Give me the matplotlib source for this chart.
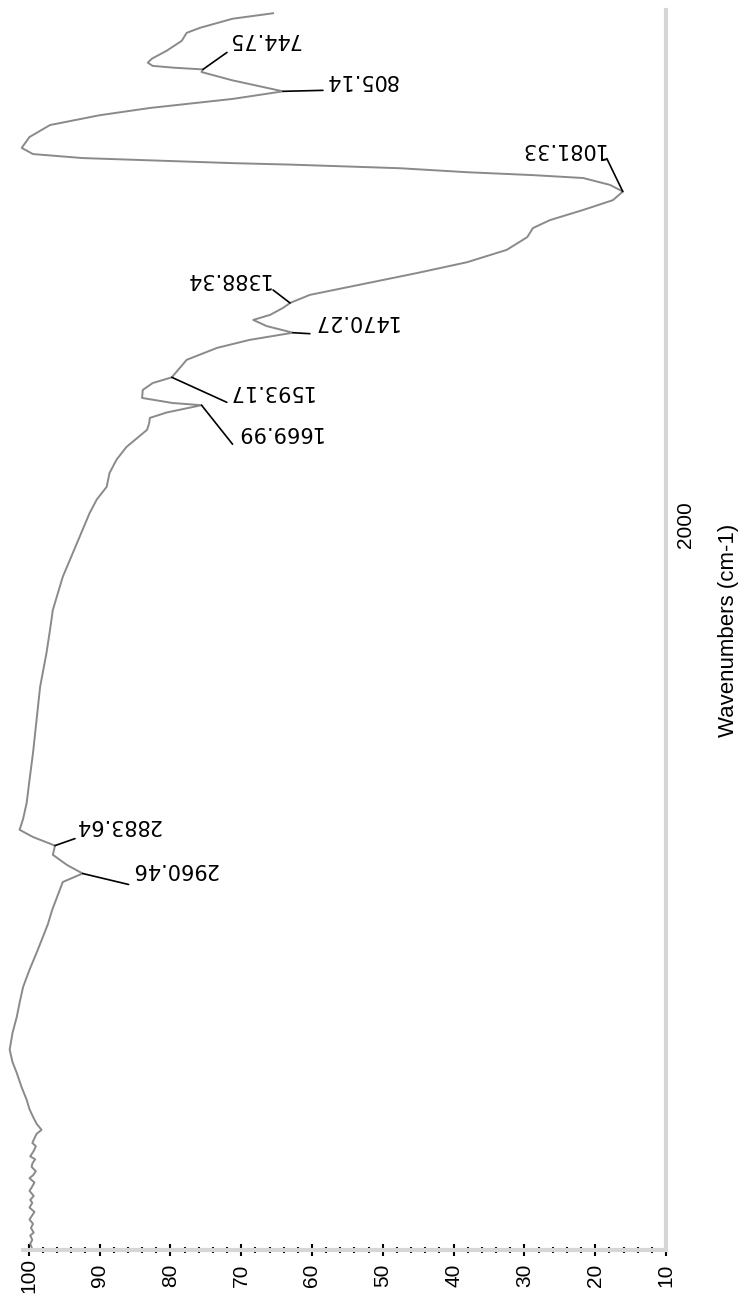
import numpy as np
import matplotlib.pyplot as plt

wavenumber = [590, 605, 630, 644, 666, 693, 715, 726, 735, 740, 744.75, 752, 775, 805.14,
              826, 851, 871, 898, 931, 961, 978, 989, 997, 1003, 1007, 1011, 1017, 1028,
              1036, 1044, 1063, 1081.33, 1105, 1132, 1160, 1182, 1207, 1242, 1276, 1306,
              1339, 1366, 1388.34, 1402, 1421, 1435, 1452, 1470.27, 1490, 1512, 1545,
              1593.17, 1609, 1628, 1650, 1664, 1669.99, 1690, 1705, 1720, 1738, 1785, 1820,
              1857, 1895, 1930, 1967, 2050, 2143, 2234, 2289, 2353, 2446, 2537, 2628, 2703,
              2766, 2810, 2840, 2860, 2883.64, 2909, 2937, 2960.46, 2984, 3025, 3061, 3100,
              3135, 3179, 3226, 3273, 3317, 3356, 3400, 3446, 3480, 3510, 3550, 3584, 3610,
              3631, 3650, 3667, 3678, 3690, 3703, 3712, 3725, 3740, 3748, 3760, 3769, 3781,
              3792, 3800, 3812, 3826, 3835, 3849, 3860, 3868, 3881, 3893, 3905, 3914, 3926,
              3937, 3950, 3958, 3970, 3981, 3990]
transmittance = [65.5, 71.2, 75.8, 77.7, 78.4, 80.5, 82.6, 83.2, 82.5, 79.5, 75.4, 75.6, 71.2, 64.1,
                 71.2, 82.9, 90.0, 97.0, 99.9, 101.0, 99.4, 92.4, 80.5, 71.2, 63.1, 57.0, 47.6, 38.1,
                 28.8, 21.7, 17.9, 16.1, 17.5, 21.7, 26.4, 28.8, 29.6, 32.5, 38.1, 45.2,
                 53.5, 60.3, 63.1, 64.1, 65.9, 68.3, 66.4, 62.7, 68.8, 73.4, 77.7,
                 79.8, 82.5, 83.9, 84.0, 79.7, 75.6, 80.5, 82.9, 83.0, 83.3, 86.2, 87.6,
                 88.6, 89.0, 90.4, 91.4, 93.2, 95.2, 96.6, 97.0, 97.5, 98.4, 98.9, 99.4, 99.9,
                 100.3, 100.8, 101.3, 99.4, 96.3, 96.6, 94.6, 92.4, 95.2, 96.0, 96.7, 97.3,
                 98.0, 98.9, 99.9, 100.8, 101.3, 101.7, 102.3, 102.7, 102.3, 101.7, 101.0, 100.3, 99.9,
                 99.4, 98.9, 98.2, 98.9, 99.2, 99.5, 99.0, 99.3, 99.8, 99.1, 99.5, 99.6, 99.0,
                 99.4, 99.9, 99.2, 99.6, 99.9, 99.3, 99.8, 99.5, 99.9, 99.2, 99.6, 99.9, 99.4,
                 99.7, 99.3, 99.8, 99.5, 99.8, 99.6]

peak_wn = [744.75, 805.14, 1081.33, 1388.34, 1470.27, 1593.17, 1669.99, 2883.64, 2960.46]
peak_t = [75.4, 64.1, 16.1, 63.1, 62.7, 79.8, 75.6, 96.3, 92.4]
peak_labels = ['744.75', '805.14', '1081.33', '1388.34', '1470.27', '1593.17', '1669.99',
               '2883.64', '2960.46']

t_major = [100, 90, 80, 70, 60, 50, 40, 30, 20, 10]
t_minor = [t for t in range(12, 100, 2) if t % 10]
wn_ticks = [1000, 1500, 2000, 2500, 3000, 3500]
wn_ticklabels = ['', '', '2000', '', '', '']

# leader line end / text anchor offsets in pixels (x right, y up)
offsets = [((24, 17), (24, 30), 'left'),
           ((40, 1), (42, 11), 'left'),
           ((-16, 33), (-18, 43), 'right'),
           ((-17, 13), (-20, 24), 'right'),
           ((17, -1), (19, 12), 'left'),
           ((55, -25), (55, -14), 'left'),
           ((31, -39), (33, -27), 'left'),
           ((20, 7), (20, 21), 'left'),
           ((46, -11), (48, 4), 'left')]

fig = plt.figure(figsize=(7.4, 12.99), dpi=100)
ax = fig.add_axes([4 / 740, 49 / 1299, 662 / 740, 1240 / 1299])

ax.plot(transmittance, wavenumber, color='#8a8a8a', lw=1.4)
ax.set_xlim(103.5, 10)
ax.set_ylim(3998, 581)

for w, t, lab, (line_end, text_pos, ha) in zip(peak_wn, peak_t, peak_labels, offsets):
    ax.annotate('', xy=(t, w), xytext=line_end, textcoords='offset pixels',
                arrowprops=dict(arrowstyle='-', color='black', lw=1.2,
                                shrinkA=0, shrinkB=0))
    ax.annotate(lab, xy=(t, w), xytext=text_pos, textcoords='offset pixels',
                rotation=180, ha=ha, va='center', fontsize=15, family='DejaVu Sans')

# spines
for s in ['top', 'left']:
    ax.spines[s].set_visible(False)
for s in ['bottom', 'right']:
    ax.spines[s].set_color('#d6d6d6')
    ax.spines[s].set_linewidth(3)
ax.spines['bottom'].set_bounds(100.8, 10)

ax.set_xticks(t_major)
ax.set_xticks(t_minor, minor=True)
ax.tick_params(axis='x', which='major', direction='inout', length=8, width=1.5,
               color='black', labelsize=15, pad=14)
ax.tick_params(axis='x', which='minor', direction='inout', length=4, width=1.5, color='black')
for lbl in ax.get_xticklabels():
    lbl.set_rotation(90)
    lbl.set_va('center')
    lbl.set_family('Liberation Sans')

ax.yaxis.tick_right()
ax.yaxis.set_label_position('right')
ax.set_yticks(wn_ticks)
ax.set_yticklabels(wn_ticklabels, rotation=90, va='center', family='Liberation Sans')
ax.tick_params(axis='y', direction='inout', length=3, width=1.5, color='black',
               labelsize=15, pad=6)
ax.set_ylabel('Wavenumbers (cm-1)', rotation=90, fontsize=16, family='Liberation Sans',
              labelpad=16)

fig.savefig('out.png', dpi=100)
